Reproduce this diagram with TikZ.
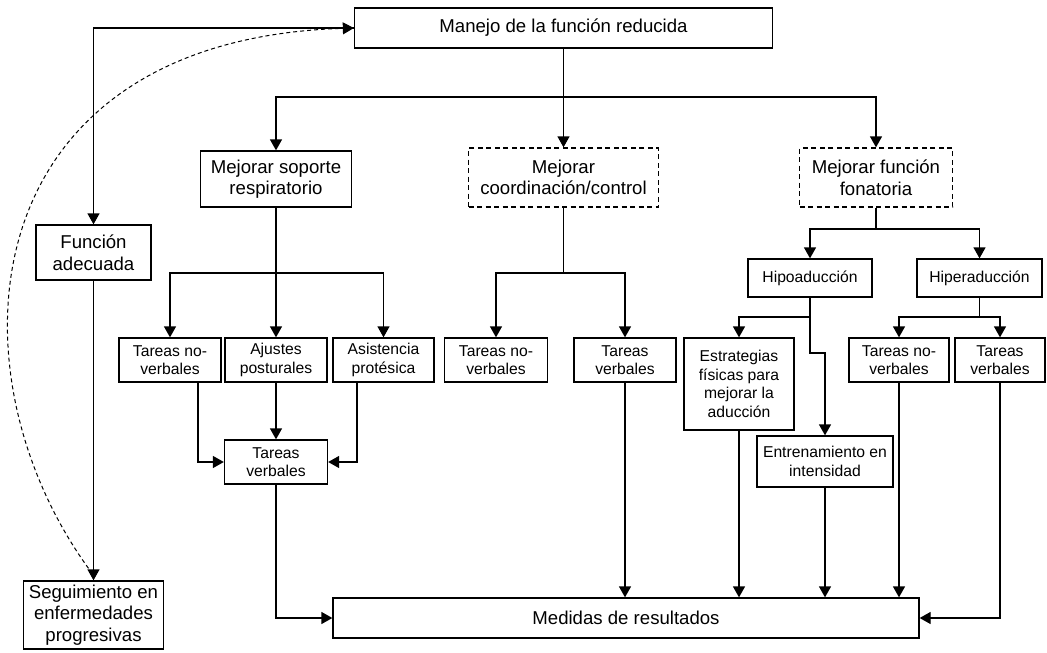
\documentclass[tikz,border=0pt]{standalone}
\usepackage{fontspec}
\setmainfont{Liberation Sans}
\usetikzlibrary{arrows.meta}
\newcommand{\bigtxt}{\fontsize{18.6}{21.5}\selectfont}
\newcommand{\smalltxt}{\fontsize{15.7}{18.5}\selectfont}

\begin{document}
\begin{tikzpicture}[
    x=1pt, y=-1pt,
    line width=1.3pt,
    >={Triangle[length=11pt,width=12pt]},
    box/.style={draw, align=center, inner sep=0pt, font=\smalltxt},
    bigbox/.style={box, font=\bigtxt},
    dbox/.style={bigbox, dash pattern=on 5pt off 3.5pt}
]
    \useasboundingbox (0,0) rectangle (1047,653);
    % top level
    \node[bigbox, minimum width=418pt, minimum height=40pt] (manejo) at (563.5,28) {Manejo de la función reducida};
    \node[bigbox, minimum width=151pt, minimum height=56pt] (soporte) at (276,179) {Mejorar soporte\\respiratorio};
    \node[dbox, minimum width=190pt, minimum height=59pt] (coord) at (563.5,177.5) {Mejorar\\coordinación/control};
    \node[dbox, minimum width=153pt, minimum height=59pt] (fonat) at (876,177.5) {Mejorar función\\fonatoria};
    \node[bigbox, minimum width=115pt, minimum height=55pt] (funcion) at (93.5,252.5) {Función\\adecuada};
    \node[bigbox, minimum width=140pt, minimum height=68pt] (seguim) at (93.5,615) {Seguimiento en\\enfermedades\\progresivas};
    % respiratorio
    \node[box, minimum width=102pt, minimum height=44pt] (tnvL) at (170,360) {Tareas no-\\verbales};
    \node[box, minimum width=102pt, minimum height=44pt] (ajustes) at (276,360) {Ajustes\\posturales};
    \node[box, minimum width=101pt, minimum height=44pt] (asist) at (383.5,360) {Asistencia\\protésica};
    \node[box, minimum width=103pt, minimum height=44pt] (tvL) at (276,462) {Tareas\\verbales};
    % coordinacion
    \node[box, minimum width=103pt, minimum height=44pt] (tnvM) at (496,360) {Tareas no-\\verbales};
    \node[box, minimum width=102pt, minimum height=44pt] (tvM) at (625,360) {Tareas\\verbales};
    % fonatoria
    \node[box, minimum width=124pt, minimum height=38pt] (hipo) at (810,278) {Hipoaducción};
    \node[box, minimum width=125pt, minimum height=38pt] (hiper) at (979.5,278) {Hiperaducción};
    \node[box, minimum width=110pt, minimum height=92pt] (estrat) at (739,384) {Estrategias\\físicas para\\mejorar la\\aducción};
    \node[box, minimum width=136pt, minimum height=51pt] (entren) at (825,461.5) {Entrenamiento en\\intensidad};
    \node[box, minimum width=100pt, minimum height=44pt] (tnvR) at (899,360) {Tareas no-\\verbales};
    \node[box, minimum width=90pt, minimum height=44pt] (tvR) at (1000,360) {Tareas\\verbales};
    \node[bigbox, minimum width=586pt, minimum height=40pt] (medidas) at (626,618) {Medidas de resultados};

    \coordinate (j1) at (563.5,97);
    \coordinate (j2) at (276,273);
    \coordinate (j3) at (563.5,273);
    \coordinate (j4) at (876,229);
    \coordinate (j5) at (810,317);
    \coordinate (k5) at (810,353);
    \coordinate (j6) at (979.5,317);

    \draw (manejo) -- (j1);
    \draw[->] (j1) -| (soporte);
    \draw[->] (j1) -- (coord);
    \draw[->] (j1) -| (fonat);
    \draw[->] (manejo.west) -| (funcion);
    \draw[->] (funcion) -- (seguim);
    \draw[->, line width=1pt, dash pattern=on 4pt off 3pt] ([xshift=-5pt,yshift=12pt]seguim.north) .. controls (-55,370) and (-30,40) .. (manejo.west);

    \draw[->] (soporte) -- (ajustes);
    \draw[->] (j2) -| (tnvL);
    \draw[->] (j2) -| (asist);
    \draw[->] (ajustes) -- (tvL);
    \draw[->] ([xshift=28pt]tnvL.south) |- (tvL.west);
    \draw[->] ([xshift=-26.5pt]asist.south) |- (tvL.east);
    \draw[->] (tvL) |- (medidas.west);

    \draw (coord) -- (j3);
    \draw[->] (j3) -| (tnvM);
    \draw[->] (j3) -| (tvM);
    \draw[->] (tvM) -- (tvM |- medidas.north);

    \draw (fonat) -- (j4);
    \draw[->] (j4) -| (hipo);
    \draw[->] (j4) -| (hiper);
    \draw (hipo) -- (j5);
    \draw[->] (j5) -| (estrat);
    \draw[->] (j5) -- (k5) -| (entren);
    \draw (hiper) -- (j6);
    \draw[->] (j6) -| (tnvR);
    \draw[->] (j6) -| (tvR);
    \draw[->] (estrat) -- (estrat |- medidas.north);
    \draw[->] (entren) -- (entren |- medidas.north);
    \draw[->] (tnvR) -- (tnvR |- medidas.north);
    \draw[->] (tvR) |- (medidas.east);
\end{tikzpicture}
\end{document}
